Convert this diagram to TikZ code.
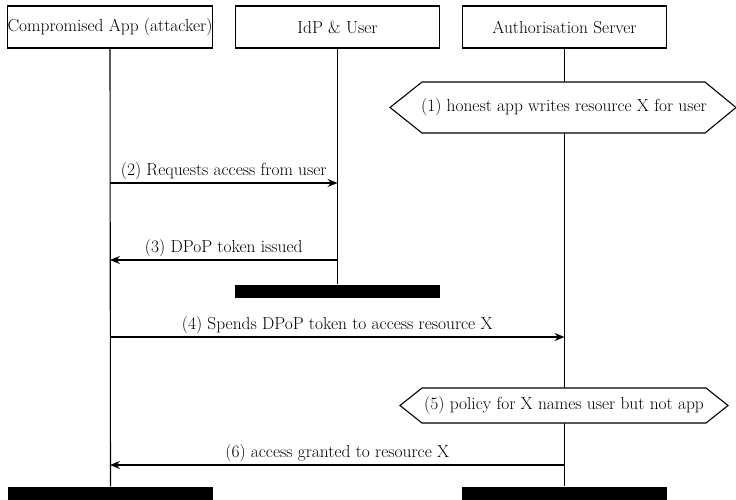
\documentclass[tikz,border=0pt]{standalone}
\usetikzlibrary{arrows.meta}
\begin{document}
\begin{tikzpicture}[x=1pt,y=-1pt,
  font=\fontsize{17.4}{20}\selectfont,
  line width=1.1pt,
  actor/.style={draw,fill=white,minimum width=204pt,minimum height=42pt,inner sep=0.5pt},
  bar/.style={fill=black,minimum width=205pt,minimum height=13pt,inner sep=0pt},
  msg/.style={-{Stealth[length=10pt,width=8pt,inset=3.5pt]}},
  lbl/.style={inner sep=1pt},
  hex/.style={draw,fill=white}]
\useasboundingbox (0,0) rectangle (736,499);
% actors
\node[actor] (a) at (110,27) {Compromised App (attacker)};
\node[actor] (b) at (337.5,27) {IdP \& User};
\node[actor] (c) at (564.5,27) {Authorisation Server};
% end bars
\node[bar] (abar) at (110.5,493.5) {};
\node[bar] (bbar) at (337.5,291.5) {};
\node[bar] (cbar) at (564.5,493.5) {};
% lifelines
\draw (a.south) -- (abar.north);
\draw (b.south) -- (bbar.north);
\draw (c.south) -- (cbar.north);
% hexagon (1)
\draw[hex] (390,107.5) -- (422,82) -- (705,82) -- (736,107.5) -- (705,133) -- (422,133) -- cycle;
\node[lbl] (h1) at (564,107.5) {(1) honest app writes resource X for user};
% hexagon (5)
\draw[hex] (400,405.5) -- (422,388) -- (706,388) -- (728,405.5) -- (706,423) -- (422,423) -- cycle;
\node[lbl] (h5) at (564,405.5) {(5) policy for X names user but not app};
% messages
\coordinate (m2s) at (a.south |- 0,183);
\coordinate (m2e) at (b.south |- 0,183);
\draw[msg] (m2s) -- node[lbl,above=2pt] {(2) Requests access from user} (m2e);
\coordinate (m3s) at (b.south |- 0,260);
\coordinate (m3e) at (a.south |- 0,260);
\draw[msg] (m3s) -- node[lbl,above=2pt] {(3) DPoP token issued} (m3e);
\coordinate (m4s) at (a.south |- 0,337);
\coordinate (m4e) at (c.south |- 0,337);
\draw[msg] (m4s) -- node[lbl,above=2pt] {(4) Spends DPoP token to access resource X} (m4e);
\coordinate (m6s) at (c.south |- 0,465);
\coordinate (m6e) at (a.south |- 0,465);
\draw[msg] (m6s) -- node[lbl,above=2pt] {(6) access granted to resource X} (m6e);
\end{tikzpicture}
\end{document}
